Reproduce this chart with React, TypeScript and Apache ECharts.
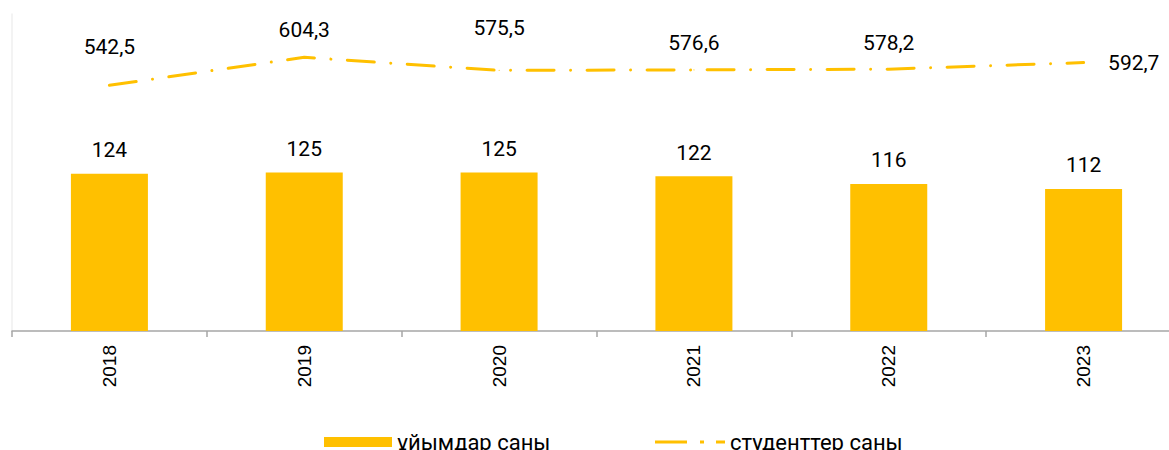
import React, { useEffect, useRef } from "react";
import * as echarts from "echarts";

const categories = ["2018", "2019", "2020", "2021", "2022", "2023"];
const orgCounts = [124, 125, 125, 122, 116, 112];
const studentCounts = [542.5, 604.3, 575.5, 576.6, 578.2, 592.7];
const studentLabelPos = ["top", "top", "top", "top", "top", "right"];
const studentLabelDist = [27, 16, 31.5, 15.5, 15, 24];
const seriesNames = ["ұйымдар саны", "студенттер саны"];

const fmt = (v: number) => String(v).replace(".", ",");

export default function App() {
  const ref = useRef<HTMLDivElement>(null);
  useEffect(() => {
    if (!ref.current) return;
    const chart = echarts.init(ref.current, undefined, { renderer: "svg" });
    const color = "#FFC000";
    const legendText = { fontFamily: "Roboto", fontSize: 22, color: "#000" };
    chart.setOption({
      animation: false,
      backgroundColor: "#ffffff",
      grid: { left: 12, right: 0, top: 14, bottom: 119, containLabel: false },
      legend: [
        {
          left: 324,
          top: 431,
          padding: 0,
          itemWidth: 68,
          itemHeight: 10,
          textStyle: legendText,
          data: [{ name: seriesNames[0], icon: "rect" }],
        },
        {
          left: 655,
          top: 431,
          padding: 0,
          itemWidth: 70,
          itemHeight: 3,
          textStyle: legendText,
          data: [
            {
              name: seriesNames[1],
              icon: "path://M0,0h32v3h-32z M45,0h4v3h-4z M61,0h9v3h-9z",
              itemStyle: { color },
            },
          ],
        },
      ],
      xAxis: {
        type: "category",
        data: categories,
        axisLine: { show: true, lineStyle: { color: "#a6a6a6", width: 1.5 } },
        axisTick: { show: true, length: 6, lineStyle: { color: "#a6a6a6", width: 1.5 } },
        axisLabel: {
          rotate: 90,
          margin: 14,
          fontFamily: "Liberation Sans",
          fontSize: 19,
          color: "#000",
        },
      },
      yAxis: [
        {
          type: "value",
          min: 0,
          max: 250,
          axisLine: { show: true, lineStyle: { color: "#efefef", width: 1.5 } },
          axisTick: { show: false },
          axisLabel: { show: false },
          splitLine: { show: false },
        },
        {
          type: "value",
          min: 0,
          max: 700,
          show: false,
          splitLine: { show: false },
        },
      ],
      series: [
        {
          name: seriesNames[0],
          type: "bar",
          data: orgCounts,
          barWidth: 77,
          itemStyle: { color },
          label: {
            show: true,
            position: "top",
            distance: 13,
            fontFamily: "Roboto",
            fontSize: 21,
            color: "#000",
          },
        },
        {
          name: seriesNames[1],
          type: "line",
          yAxisIndex: 1,
          data: studentCounts.map((v, i) => ({
            value: v,
            label: { position: studentLabelPos[i], distance: studentLabelDist[i] },
          })),
          symbol: "circle",
          symbolSize: 1,
          showSymbol: true,
          itemStyle: { color },
          lineStyle: {
            color,
            width: 3,
            type: [27, 16.5, 0.01, 16.5],
            cap: "round",
          },
          label: {
            show: true,
            fontFamily: "Roboto",
            fontSize: 21,
            color: "#000",
            formatter: (p: any) => fmt(p.value),
          },
        },
      ],
    });
    return () => chart.dispose();
  }, []);
  return (
    <div
      ref={ref}
      style={{ position: "fixed", left: 0, top: 0, width: 1181, height: 450 }}
    />
  );
}
